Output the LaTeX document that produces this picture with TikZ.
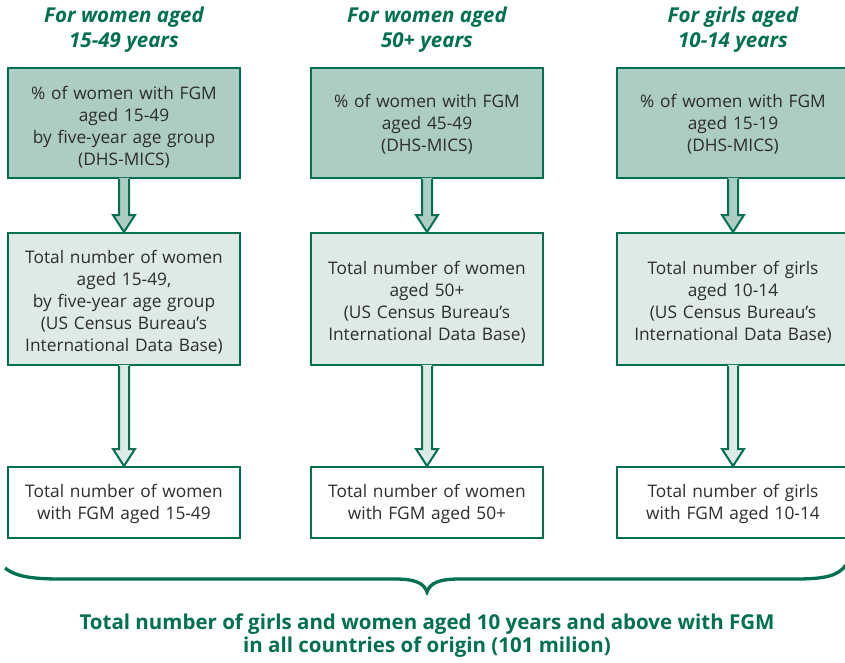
\documentclass[tikz,border=0pt]{standalone}
\usepackage{fontspec}
\setmainfont{Open Sans}
\usetikzlibrary{calc}
\definecolor{fgmgreen}{RGB}{0,112,80}
\definecolor{topfill}{RGB}{173,204,195}
\definecolor{midfill}{RGB}{221,234,230}
\definecolor{txt}{RGB}{45,45,45}
\begin{document}
\begin{tikzpicture}[x=1pt,y=-1pt,
  box/.style={draw=fgmgreen,line width=2pt,rectangle,minimum width=232pt,inner sep=0pt},
  btext/.style={text width=228pt,align=center,text=txt,font=\fontsize{17.3}{22}\selectfont,inner sep=0pt},
  topbox/.style={box,fill=topfill,minimum height=110pt},
  midbox/.style={box,fill=midfill,minimum height=132pt},
  botbox/.style={box,fill=white,minimum height=71pt},
  head/.style={text=fgmgreen,font=\fontsize{20.5}{25}\selectfont\bfseries\itshape,align=center},
  foot/.style={text=fgmgreen,font=\fontsize{20.5}{23}\selectfont\bfseries,align=center}]
\useasboundingbox (0,0) rectangle (845,662);
% headers
\node[head] (h1) at (124,30) {For women aged\\15-49 years};
\node[head] (h2) at (427,30) {For women aged\\50+ years};
\node[head] (h3) at (733,30) {For girls aged\\10-14 years};
% boxes
\node[topbox] (t1) at (124,123) {};
\node[topbox] (t2) at (427,123) {};
\node[topbox] (t3) at (733,123) {};
\node[midbox] (m1) at (124,299) {};
\node[midbox] (m2) at (427,299) {};
\node[midbox] (m3) at (733,299) {};
\node[botbox] (b1) at (124,502.5) {};
\node[botbox] (b2) at (427,502.5) {};
\node[botbox] (b3) at (733,502.5) {};
% texts
\node[btext] (t1x) at ($(t1.center)+(0,4)$) {\% of women with FGM\\aged 15-49\\by five-year age group\\(DHS-MICS)};
\node[btext] (t2x) at ($(t2.center)+(0,1.5)$) {\% of women with FGM\\aged 45-49\\(DHS-MICS)};
\node[btext] (t3x) at ($(t3.center)+(0,1.5)$) {\% of women with FGM\\aged 15-19\\(DHS-MICS)};
\node[btext] (m1x) at ($(m1.center)+(0,3.5)$) {Total number of women\\aged 15-49,\\by five-year age group\\(US Census Bureau’s\\International Data Base)};
\node[btext] (m2x) at ($(m2.center)+(0,3)$) {Total number of women\\aged 50+\\(US Census Bureau’s\\International Data Base)};
\node[btext] (m3x) at ($(m3.center)+(0,3)$) {Total number of girls\\aged 10-14\\(US Census Bureau’s\\International Data Base)};
\node[btext] (b1x) at ($(b1.center)+(0,1)$) {Total number of women\\with FGM aged 15-49};
\node[btext] (b2x) at ($(b2.center)+(0,1)$) {Total number of women\\with FGM aged 50+};
\node[btext] (b3x) at ($(b3.center)+(0,1)$) {Total number of girls\\with FGM aged 10-14};
% block arrows
\newcommand{\blockarrow}[3]{%
  \fill[#3] ($(#1.south)+(-5,-1.2)$) -- ($(#2.north)+(-5,-17)$) -- ($(#2.north)+(-11,-17)$) -- (#2.north) -- ($(#2.north)+(11,-17)$) -- ($(#2.north)+(5,-17)$) -- ($(#1.south)+(5,-1.2)$) -- cycle;
  \draw[fgmgreen,line width=2pt,line join=miter] ($(#1.south)+(-5,0)$) -- ($(#2.north)+(-5,-17)$) -- ($(#2.north)+(-11,-17)$) -- (#2.north) -- ($(#2.north)+(11,-17)$) -- ($(#2.north)+(5,-17)$) -- ($(#1.south)+(5,0)$);}
\blockarrow{t1}{m1}{topfill}
\blockarrow{t2}{m2}{topfill}
\blockarrow{t3}{m3}{topfill}
\blockarrow{m1}{b1}{midfill}
\blockarrow{m2}{b2}{midfill}
\blockarrow{m3}{b3}{midfill}
% brace
\coordinate (bl) at (5,568);
\coordinate (bt) at (427,592);
\coordinate (br) at (846,565);
\draw[fgmgreen,line width=3.3pt] (bl) .. controls (15,576) and (30,579) .. (60,579) -- (395,579) .. controls (415,579) and (424,583) .. (bt) .. controls (430,583) and (439,579) .. (459,579) -- (795,579) .. controls (825,579) and (838,576) .. (br);
\node[foot] (f) at (427,636) {Total number of girls and women aged 10 years and above with FGM\\in all countries of origin (101 milion)};
\end{tikzpicture}
\end{document}
